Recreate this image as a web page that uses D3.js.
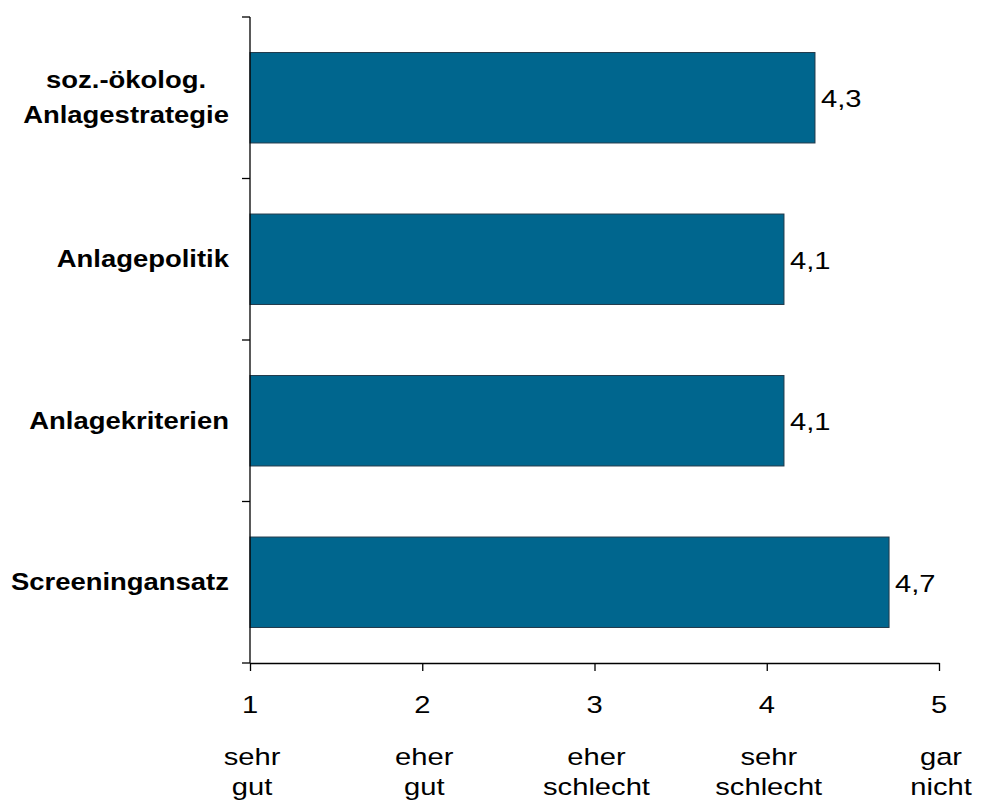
<!DOCTYPE html>
<html>
<head>
<meta charset="utf-8">
<script src="https://cdn.jsdelivr.net/npm/d3@7"></script>
<style>
  html, body { margin: 0; padding: 0; background: #fff; }
  svg { display: block; }
  text { font-family: "Liberation Sans", Arial, sans-serif; fill: #000; }
</style>
</head>
<body>
<svg id="chart" width="983" height="800"></svg>
<script>
// Ratings per topic (1 = sehr gut ... 5 = gar nicht)
const categories = [
  ["soz.-ökolog.", "Anlagestrategie"],
  ["Anlagepolitik"],
  ["Anlagekriterien"],
  ["Screeningansatz"],
];
const values = [4.28, 4.1, 4.1, 4.71];
const tickValues = [1, 2, 3, 4, 5];
const tickWords = [
  ["sehr", "gut"],
  ["eher", "gut"],
  ["eher", "schlecht"],
  ["sehr", "schlecht"],
  ["gar", "nicht"],
];

const W = 983, H = 800;
const margin = { top: 17, right: 44, bottom: 137, left: 250 };
const FS = 24.5;
const SX = 1.19;   // regular text is stretched horizontally in the reference
const SXB = 1.12;  // bold labels
const barColor = "#00668e";

const svg = d3.select("#chart");
const keys = categories.map((c) => c.join(" "));

const x = d3.scaleLinear().domain([1, 5]).range([margin.left, W - margin.right]);
const y = d3.scaleBand().domain(keys).range([margin.top, H - margin.bottom])
  .paddingInner(0.44).paddingOuter(0.22);

// bars
svg.append("g")
  .selectAll("rect")
  .data(values)
  .join("rect")
  .attr("x", x(1))
  .attr("y", (d, i) => y(keys[i]))
  .attr("width", (d) => x(d) - x(1))
  .attr("height", y.bandwidth())
  .attr("fill", barColor)
  .attr("stroke", "#20394a")
  .attr("stroke-width", 1);

// value labels
const fmt = (v) => d3.format(".1f")(v).replace(".", ",");
svg.append("g")
  .selectAll("text")
  .data(values)
  .join("text")
  .attr("transform", (d, i) => `translate(${x(d) + 6},${y(keys[i]) + y.bandwidth() / 2 + 9.5}) scale(${SX},1)`)
  .attr("font-size", FS)
  .text((d) => fmt(d));

// y axis with ticks at band boundaries
const yBottom = H - margin.bottom;
const bounds = keys.map((k) => y(k) - (y.step() * y.paddingInner()) / 2).concat([yBottom]);
bounds[0] = margin.top;
const yAxisG = svg.append("g");
yAxisG.append("line")
  .attr("x1", x(1)).attr("x2", x(1))
  .attr("y1", margin.top).attr("y2", yBottom)
  .attr("stroke", "#000").attr("stroke-width", 1.3);
yAxisG.selectAll("line.tick")
  .data(bounds)
  .join("line")
  .attr("class", "tick")
  .attr("x1", x(1) - 8).attr("x2", x(1))
  .attr("y1", (d) => d).attr("y2", (d) => d)
  .attr("stroke", "#000").attr("stroke-width", 1.3);

// x axis
const xAxisG = svg.append("g")
  .attr("transform", `translate(0,${yBottom})`)
  .call(d3.axisBottom(x).tickValues(tickValues).tickSize(8).tickSizeOuter(0).tickFormat(""));
xAxisG.select(".domain").attr("stroke", "#000").attr("stroke-width", 1.3);
xAxisG.selectAll(".tick line").attr("stroke", "#000").attr("stroke-width", 1.3);

// tick numbers and words
const tl = svg.append("g");
tickValues.forEach((v, i) => {
  tl.append("text")
    .attr("transform", `translate(${x(v)},713) scale(${SX},1)`)
    .attr("text-anchor", "middle")
    .attr("font-size", FS)
    .text(v);
  tickWords[i].forEach((w, j) => {
    tl.append("text")
      .attr("transform", `translate(${x(v) + 2},${765 + j * 30}) scale(${SX},1)`)
      .attr("text-anchor", "middle")
      .attr("font-size", FS)
      .text(w);
  });
});

// category labels: block right-aligned, lines centred within block
const labelRight = x(1) - 21;
categories.forEach((lines, i) => {
  const g = svg.append("g");
  const cy = y(keys[i]) + y.bandwidth() / 2;
  const lh = 35;
  const texts = lines.map((l) =>
    g.append("text")
      .attr("font-size", FS)
      .attr("font-weight", "bold")
      .attr("text-anchor", "middle")
      .text(l)
  );
  const widths = texts.map((t) => t.node().getComputedTextLength() * SXB);
  const maxW = d3.max(widths);
  const cx = labelRight - maxW / 2;
  texts.forEach((t, j) => {
    const by = cy + 8 + (j - (lines.length - 1) / 2) * lh;
    t.attr("transform", `translate(${cx},${by}) scale(${SXB},1)`);
  });
});
</script>
</body>
</html>
